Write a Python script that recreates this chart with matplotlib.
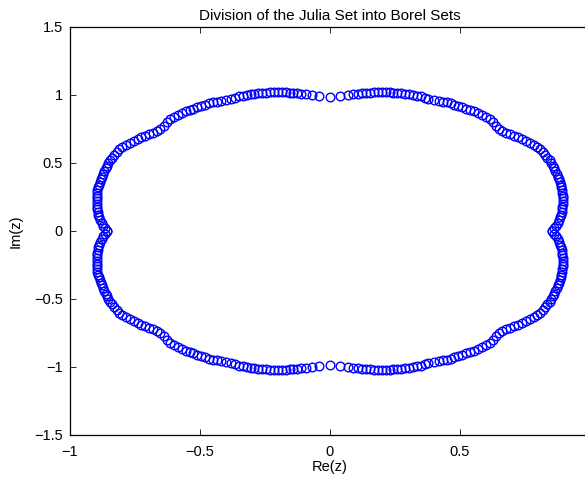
import numpy as np
import matplotlib
matplotlib.use("Agg")
from matplotlib import pyplot as plt

plt.rcParams['font.family'] = ['Liberation Sans', 'DejaVu Sans']

# upper-left quarter of the Julia set
# (the set is symmetric in both axes, the other quarters are mirrored)
qx = [-0.857, -0.865, -0.872, -0.878, -0.884, -0.888, -0.891, -0.893,
      -0.895, -0.896, -0.897, -0.897, -0.897, -0.897, -0.896, -0.895,
      -0.892, -0.889, -0.886, -0.882, -0.878, -0.873, -0.868, -0.863,
      -0.858, -0.853, -0.846, -0.838, -0.829, -0.820, -0.810, -0.798,
      -0.785, -0.770, -0.755, -0.740, -0.725, -0.710, -0.695, -0.680,
      -0.665, -0.652, -0.640, -0.628, -0.615, -0.600, -0.585, -0.570,
      -0.555, -0.540, -0.525, -0.510, -0.495, -0.480, -0.465, -0.450,
      -0.435, -0.420, -0.400, -0.380, -0.365, -0.350, -0.335, -0.320,
      -0.305, -0.290, -0.275, -0.260, -0.245, -0.230, -0.215, -0.200,
      -0.185, -0.170, -0.155, -0.140, -0.125, -0.110, -0.090, -0.070,
      -0.040]
qy = [0.000, 0.020, 0.040, 0.060, 0.080, 0.100, 0.120, 0.140,
      0.160, 0.180, 0.200, 0.220, 0.240, 0.260, 0.280, 0.300,
      0.320, 0.340, 0.360, 0.380, 0.400, 0.420, 0.440, 0.460,
      0.480, 0.500, 0.520, 0.540, 0.560, 0.580, 0.600, 0.620,
      0.635, 0.650, 0.665, 0.678, 0.690, 0.700, 0.710, 0.720,
      0.735, 0.750, 0.770, 0.800, 0.820, 0.840, 0.855, 0.870,
      0.880, 0.890, 0.900, 0.910, 0.920, 0.930, 0.940, 0.945,
      0.950, 0.957, 0.962, 0.970, 0.980, 0.990, 0.995, 1.000,
      1.005, 1.010, 1.013, 1.016, 1.018, 1.020, 1.020, 1.020,
      1.020, 1.020, 1.018, 1.016, 1.013, 1.010, 1.006, 1.000,
      0.995]
top_x = [0.0]
top_y = [0.985]

qx = np.array(qx)
qy = np.array(qy)
re_z = np.concatenate([qx, -qx, qx, -qx, top_x, top_x])
im_z = np.concatenate([qy, qy, -qy, -qy, top_y, [-v for v in top_y]])

fig = plt.figure(figsize=(5.85, 4.83), dpi=100)
ax = fig.add_axes([0.1197, 0.0994, 0.888, 0.8447])

ax.plot(re_z, im_z, 'o', color='blue', markerfacecolor='none',
        markersize=6.2, markeredgewidth=1.0)

ax.set_xlim(-1, 1)
ax.set_ylim(-1.5, 1.5)
# the x = 1 tick sits just past the picture's right edge
ax.set_xticks([-1, -0.5, 0, 0.5, 1])
ax.set_xticklabels(['\u22121', '\u22120.5', '0', '0.5', ''])
ax.set_yticks([-1.5, -1, -0.5, 0, 0.5, 1, 1.5])
ax.set_yticklabels(['\u22121.5', '\u22121', '\u22120.5', '0', '0.5', '1', '1.5'])
ax.tick_params(direction='in', length=4, width=0.6, top=True, right=False,
               labelsize=10.5, colors='black')
ax.tick_params(axis='x', pad=7)
ax.tick_params(axis='y', pad=5)
for s in ax.spines.values():
    s.set_linewidth(0.9)

ax.set_title('Division of the Julia Set into Borel Sets', fontsize=11, pad=5)
ax.set_xlabel('Re(z)', fontsize=10.5, labelpad=1)
ax.set_ylabel('Im(z)', fontsize=10.5, labelpad=8)

fig.savefig('out.png', dpi=100)
